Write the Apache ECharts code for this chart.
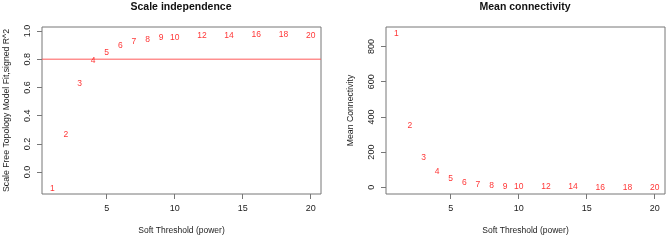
<!DOCTYPE html>
<html>
<head>
<meta charset="utf-8">
<script src="https://cdn.jsdelivr.net/npm/echarts@6/dist/echarts.min.js"></script>
<style>
html,body{margin:0;padding:0;background:#fff;}
#chart{width:668px;height:240px;}
</style>
</head>
<body>
<div id="chart"></div>
<script>
// Data
var powers = [1, 2, 3, 4, 5, 6, 7, 8, 9, 10, 12, 14, 16, 18, 20];
var scaleFreeFit = [-0.118, 0.268, 0.628, 0.793, 0.847, 0.894, 0.923, 0.937, 0.951, 0.951, 0.965, 0.965, 0.977, 0.974, 0.965];
var meanConnectivity = [872, 349, 166, 91, 47, 26, 17, 10, 6, 4, 2, 1, 0.7, 0.5, 0.4];
var cutoffLine = 0.8;
var xTicks = [5, 10, 15, 20];
var leftYTicks = [0, 0.2, 0.4, 0.6, 0.8, 1.0];
var rightYTicks = [0, 200, 400, 600, 800];
var titles = ['Scale independence', 'Mean connectivity'];
var xName = 'Soft Threshold (power)';
var yNames = ['Scale Free Topology Model Fit,signed R^2', 'Mean Connectivity'];

var X_MIN = 0.24, X_MAX = 20.76;

var FONT = '"Liberation Sans", Arial, sans-serif';
var TXT = '#222';
var BOX = '#777';
var RED = '#ff0000';

function pairs(xs, ys) { return xs.map(function (x, i) { return [x, ys[i]]; }); }

function xAxisDef(gi) {
  return {
    gridIndex: gi, type: 'value', min: X_MIN, max: X_MAX,
    name: xName, nameLocation: 'middle', nameGap: 32,
    nameTextStyle: { fontFamily: FONT, fontSize: 8.5, color: TXT },
    axisLine: { show: false, onZero: false },
    axisTick: { show: true, length: 5, lineStyle: { color: BOX }, customValues: xTicks },
    axisLabel: { fontFamily: FONT, fontSize: 9, color: TXT, margin: 10, customValues: xTicks },
    splitLine: { show: false }
  };
}
function yAxisDef(gi, min, max, ticks, name, gap, lmargin) {
  return {
    gridIndex: gi, type: 'value', min: min, max: max,
    name: name, nameLocation: 'middle', nameGap: gap, nameRotate: 90,
    nameTextStyle: { fontFamily: FONT, fontSize: 8.7, color: TXT },
    axisLine: { show: false, onZero: false },
    axisTick: { show: true, length: 5, lineStyle: { color: BOX }, customValues: ticks },
    axisLabel: {
      fontFamily: FONT, fontSize: 9, color: TXT, rotate: 90, margin: lmargin,
      customValues: ticks,
      formatter: function (v) { return (max < 2) ? v.toFixed(1) : String(Math.round(v)); }
    },
    splitLine: { show: false }
  };
}
function labelSeries(gi, ys) {
  return {
    type: 'scatter', xAxisIndex: gi, yAxisIndex: gi,
    data: pairs(powers, ys), symbolSize: 0, symbol: 'circle',
    itemStyle: { color: RED },
    label: {
      show: true, position: 'inside', fontFamily: FONT, fontSize: 8.5, color: RED,
      textBorderWidth: 0, textBorderColor: 'transparent',
      formatter: function (p) { return String(p.value[0]); }
    },
    labelLayout: { hideOverlap: false },
    silent: true, animation: false, z: 3
  };
}

var chart = echarts.init(document.getElementById('chart'), null, { renderer: 'canvas' });
chart.setOption({
  animation: false,
  backgroundColor: '#fff',
  title: [
    { text: titles[0], left: 181, top: 2, padding: 0, textAlign: 'center',
      textStyle: { fontFamily: FONT, fontSize: 10.5, fontWeight: 'bold', color: '#111' } },
    { text: titles[1], left: 525, top: 2, padding: 0, textAlign: 'center',
      textStyle: { fontFamily: FONT, fontSize: 10.5, fontWeight: 'bold', color: '#111' } }
  ],
  grid: [
    { left: 42, top: 27, width: 279, height: 168, show: true, borderColor: BOX, borderWidth: 1, backgroundColor: 'transparent' },
    { left: 386, top: 27, width: 279, height: 168, show: true, borderColor: BOX, borderWidth: 1, backgroundColor: 'transparent' }
  ],
  xAxis: [xAxisDef(0), xAxisDef(1)],
  yAxis: [
    yAxisDef(0, -0.155, 1.028, leftYTicks, yNames[0], 31, 10),
    yAxisDef(1, -38, 911, rightYTicks, yNames[1], 31, 10)
  ],
  series: [
    {
      type: 'line', xAxisIndex: 0, yAxisIndex: 0,
      data: [[X_MIN, cutoffLine], [X_MAX, cutoffLine]],
      showSymbol: false, symbol: 'none', silent: true, animation: false, z: 2,
      lineStyle: { color: '#ff5a5a', width: 1, type: 'solid' },
      itemStyle: { color: '#ff5a5a' }
    },
    labelSeries(0, scaleFreeFit),
    labelSeries(1, meanConnectivity)
  ]
});
</script>
</body>
</html>
